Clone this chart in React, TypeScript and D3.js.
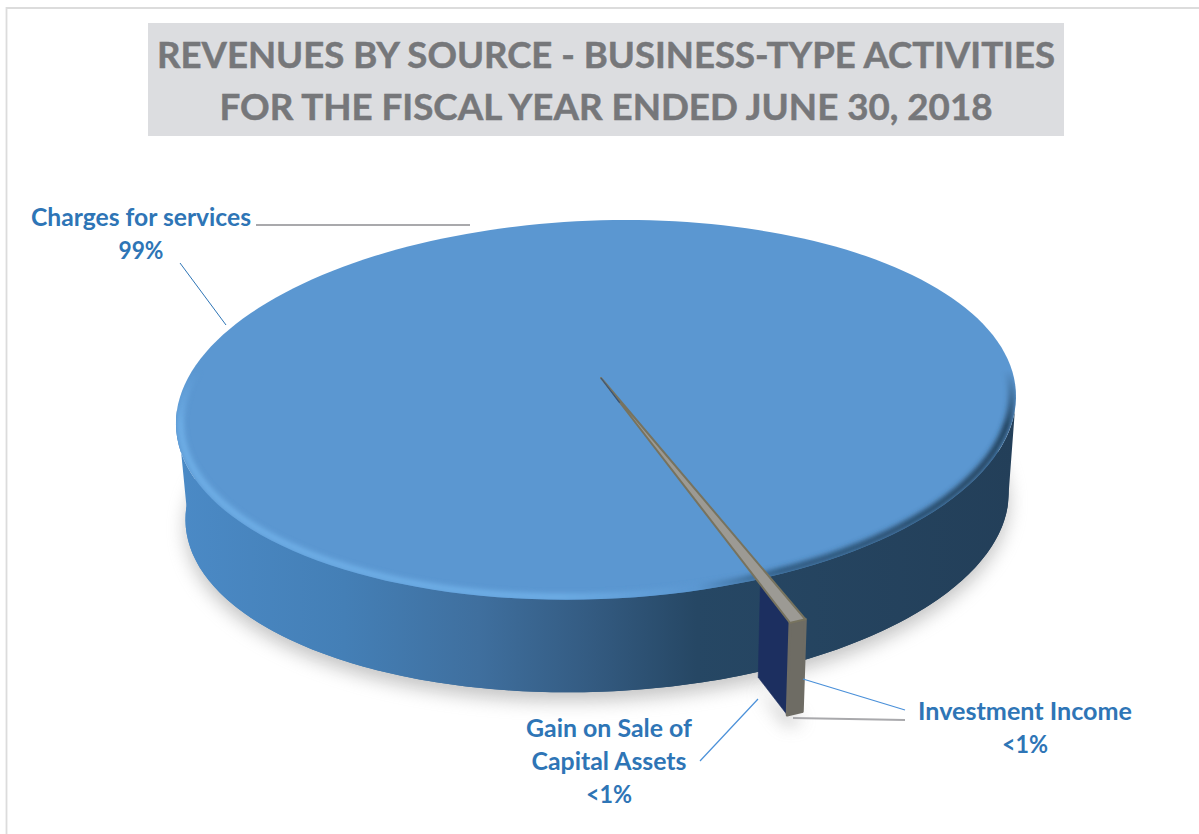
import React from "react";
import * as d3 from "d3";

// Revenue shares by source, in clockwise slice order
const sources = ["Charges for services", "Investment Income", "Gain on Sale of Capital Assets"];
const shares = [99.4, 0.45, 0.15];
const titleLines = [
  "REVENUES BY SOURCE - BUSINESS-TYPE ACTIVITIES",
  "FOR THE FISCAL YEAR ENDED JUNE 30, 2018",
];

const FONT = "Lato, Carlito, 'Open Sans', sans-serif";
const BLUE = "#2e75b6";

// Perspective camera for the tilted disc: u/v are disc coordinates, v grows toward the viewer.
const APEX = { x: 601, y: 378 };
const RX = 413;
const RY = 184.5;
const SKEW = -29;
const PERSP = 0.168;
const DROP = 93;
const BASE_SCALE = 0.98;

type Pt = [number, number];

function project(u: number, v: number, base = false): Pt {
  const w = 1 - PERSP * v;
  const k = base ? BASE_SCALE : 1;
  const x = APEX.x + (k * (RX * u + SKEW * v)) / w + (base ? 1 : 0);
  const y = APEX.y + (k * RY * v) / w + (base ? DROP + 4 : 0);
  return [x, y];
}

// d3.pie angles run clockwise from north; on the disc north is v = -1.
const polar = (angle: number, r: number, base = false): Pt =>
  project(r * Math.sin(angle), -r * Math.cos(angle), base);

const line = d3.line<Pt>();
const sweep = (a0: number, a1: number, r: number, base = false): Pt[] =>
  d3.range(0, 181).map((i) => polar(a0 + ((a1 - a0) * i) / 180, r, base));

// The pie is rotated so the small slices point toward the lower right.
const END = (158 * Math.PI) / 180;
const arcs = d3
  .pie<number>()
  .sort(null)
  .startAngle(END - 2 * Math.PI)
  .endAngle(END)(shares);

const income = arcs[1];
const gain = arcs[2];

export default function App() {
  const topRim = line(sweep(0, 2 * Math.PI, 1))! + "Z";
  const baseRim = line(sweep(0, 2 * Math.PI, 1, true))! + "Z";

  // Wall between the top rim and the base rim along the near half of the disc.
  const nearTop = sweep(Math.PI * 0.554, Math.PI * 1.446, 1);
  const nearBase = sweep(Math.PI * 0.554, Math.PI * 1.446, 1, true).reverse();
  const wall = line([...nearTop, ...nearBase])! + "Z";

  const bevel = line(sweep(Math.PI * 0.42, Math.PI * 1.58, 0.99))!;

  // The small slices stick out past the rim by this radial factor.
  const OUT = 1.175;
  const INNER = 1.02;
  const wedgeRight = income.startAngle;
  const wedgeLeft = income.endAngle;

  const pInner = polar(wedgeLeft, INNER);
  const pInnerBase = polar(wedgeLeft, INNER, true);
  const pOuter = polar(wedgeLeft, OUT);
  const pOuterBase = polar(wedgeLeft, OUT, true);
  const navyFace = line([pInner, pOuter, pOuterBase, pInnerBase])! + "Z";

  const rimOuter = sweep(wedgeRight, wedgeLeft, OUT);
  const rimOuterBase = sweep(wedgeRight, wedgeLeft, OUT, true).reverse();
  const rimFace = line([...rimOuter, ...rimOuterBase])! + "Z";

  const grayTop = line([[APEX.x, APEX.y], ...rimOuter])! + "Z";
  // Only the inner tip of the narrow gain slice stays visible near the centre.
  const navyTip =
    line([[APEX.x, APEX.y], polar(gain.startAngle, 0.14), polar(gain.endAngle + 0.004, 0.14)])! + "Z";

  return (
    <svg
      width={1199}
      height={834}
      viewBox="0 0 1199 834"
      style={{ position: "absolute", left: 0, top: 0, display: "block", background: "#fff" }}
    >
      <defs>
        <linearGradient id="wallFill" gradientUnits="userSpaceOnUse" x1={177} x2={1015} y1={0} y2={0}>
          <stop offset="0" stopColor="#4b8ac6" />
          <stop offset="0.2" stopColor="#447fb6" />
          <stop offset="0.36" stopColor="#3f6f9e" />
          <stop offset="0.5" stopColor="#335a80" />
          <stop offset="0.62" stopColor="#264764" />
          <stop offset="1" stopColor="#233f59" />
        </linearGradient>
        <linearGradient id="bevelStroke" gradientUnits="userSpaceOnUse" x1={177} x2={1015} y1={0} y2={0}>
          <stop offset="0" stopColor="#6eaee6" />
          <stop offset="0.45" stopColor="#6eaee6" />
          <stop offset="0.62" stopColor="#5b97d1" />
          <stop offset="0.72" stopColor="#2f5a80" />
          <stop offset="1" stopColor="#23405a" />
        </linearGradient>
        <linearGradient id="bevelFade" gradientUnits="userSpaceOnUse" x1={0} x2={0} y1={370} y2={425}>
          <stop offset="0" stopColor="#000" />
          <stop offset="1" stopColor="#fff" />
        </linearGradient>
        <mask id="bevelMask" maskUnits="userSpaceOnUse" x={0} y={0} width={1199} height={834}>
          <rect width={1199} height={834} fill="url(#bevelFade)" />
        </mask>
        <filter id="softShadow" filterUnits="userSpaceOnUse" x={0} y={0} width={1199} height={834}>
          <feGaussianBlur stdDeviation="9" />
        </filter>
        <filter id="softBevel" filterUnits="userSpaceOnUse" x={0} y={0} width={1199} height={834}>
          <feGaussianBlur stdDeviation="2.4" />
        </filter>
        <clipPath id="topClip">
          <path d={topRim} />
        </clipPath>
      </defs>

      {/* page frame */}
      <path d="M6.5,834V8H1199" fill="none" stroke="#dcdcdc" strokeWidth={1.8} />

      {/* title block */}
      <rect x={148} y={23} width={916} height={113} fill="#dcdde0" />
      {titleLines.map((t, i) => (
        <text
          key={t}
          x={606}
          y={68 + i * 52}
          textAnchor="middle"
          fontFamily={FONT}
          fontWeight={700}
          fontSize={36.5}
          fill="#76777a"
          stroke="#76777a"
          strokeWidth={0.5}
          textLength={i === 0 ? 898 : 773}
          lengthAdjust="spacingAndGlyphs"
        >
          {t}
        </text>
      ))}

      {/* drop shadow under the disc */}
      <path d={baseRim} fill="#8c8c8c" opacity={0.5} filter="url(#softShadow)" transform="translate(0,9)" />
      <path
        d={line([polar(wedgeRight, OUT, true), polar(wedgeLeft, OUT, true), pInnerBase])! + "Z"}
        fill="#8c8c8c"
        opacity={0.6}
        filter="url(#softShadow)"
        transform="translate(0,10)"
      />

      {/* disc body */}
      <path d={baseRim} fill="url(#wallFill)" />
      <path d={wall} fill="url(#wallFill)" />
      <path d={topRim} fill="#5b97d1" />
      <g clipPath="url(#topClip)" mask="url(#bevelMask)">
        <path d={bevel} fill="none" stroke="url(#bevelStroke)" strokeWidth={7} filter="url(#softBevel)" />
      </g>

      {/* the two small slices */}
      <path d={navyFace} fill="#1c2f60" stroke="#1c2f60" strokeWidth={0.6} />
      <path d={rimFace} fill="#6e6c64" stroke="#6e6c64" strokeWidth={3} strokeLinejoin="round" />
      <path d={grayTop} fill="#9c9a94" stroke="#77735f" strokeWidth={2} strokeLinejoin="round" />
      <path d={navyTip} fill="#2c4f80" stroke="#2c4f80" strokeWidth={0.6} />

      {/* leader lines */}
      <line x1={256} y1={225} x2={470} y2={225} stroke="#a9a9ac" strokeWidth={2} />
      <line x1={180} y1={263} x2={226} y2={325} stroke={BLUE} strokeWidth={1} />
      <line x1={803} y1={679} x2={905} y2={710} stroke="#4a90d9" strokeWidth={1.2} />
      <line x1={793} y1={718} x2={905} y2={720} stroke="#a9a9ac" strokeWidth={2} />
      <line x1={758} y1={699} x2={700} y2={761} stroke="#4a90d9" strokeWidth={1.2} />

      {/* slice labels */}
      <g fontFamily={FONT} fontWeight={700} fontSize={25} fill={BLUE} textAnchor="middle">
        <text x={141} y={226} textLength={220} lengthAdjust="spacingAndGlyphs">{sources[0]}</text>
        <text x={141} y={259} textLength={45} lengthAdjust="spacingAndGlyphs">99%</text>
        <text x={609} y={737} textLength={166} lengthAdjust="spacingAndGlyphs">Gain on Sale of</text>
        <text x={609} y={770} textLength={155} lengthAdjust="spacingAndGlyphs">Capital Assets</text>
        <text x={609} y={803} textLength={46} lengthAdjust="spacingAndGlyphs">&lt;1%</text>
        <text x={1025} y={720} textLength={214} lengthAdjust="spacingAndGlyphs">{sources[1]}</text>
        <text x={1025} y={753} textLength={46} lengthAdjust="spacingAndGlyphs">&lt;1%</text>
      </g>
    </svg>
  );
}
